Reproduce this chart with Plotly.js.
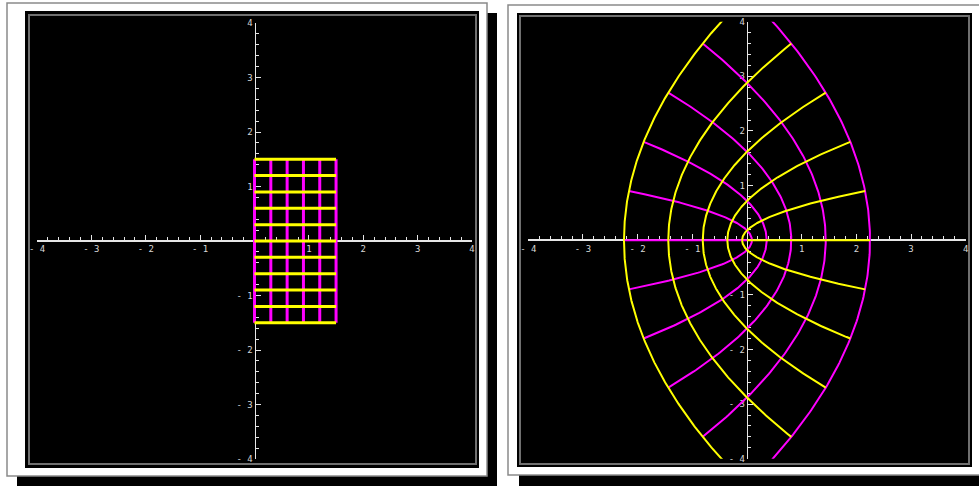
<!DOCTYPE html>
<html>
<head>
<meta charset="utf-8">
<script src="https://cdn.plot.ly/plotly-3.0.1.min.js"></script>
<style>html,body{margin:0;padding:0;background:#fff;}#chart{width:979px;height:486px;}</style>
</head>
<body>
<div id="chart"></div>
<script>
// ---- data ----
// grid lines of the rectangle in the z-plane
const gridX = [0, 0.3, 0.6, 0.9, 1.2, 1.5];                                 // vertical lines (magenta)
const gridY = [-1.5, -1.2, -0.9, -0.6, -0.3, 0, 0.3, 0.6, 0.9, 1.2, 1.5];   // horizontal lines (yellow)
const tickVals = [-4, -3, -2, -1, 1, 2, 3, 4];
const tickText = ['- 4', '- 3', '- 2', '- 1', '1', '2', '3', '4'];

const MAG = '#ff00ff', YEL = '#ffff00';
const W = 979, H = 486;
const px = v => v / W;
const py = v => 1 - v / H;

// mapping w = z^2 (the right panel is the image of the left grid)
function sq(x, y) { return [x * x - y * y, 2 * x * y]; }

const traces = [];
const yMin = gridY[0], yMax = gridY[gridY.length - 1];
const xMin = gridX[0], xMax = gridX[gridX.length - 1];

// left panel
gridX.forEach(c => traces.push({type: 'scatter', mode: 'lines', x: [c, c], y: [yMin, yMax],
  line: {color: MAG, width: 3}, xaxis: 'x', yaxis: 'y', hoverinfo: 'skip', showlegend: false}));
gridY.forEach(d => traces.push({type: 'scatter', mode: 'lines', x: [xMin, xMax], y: [d, d],
  line: {color: YEL, width: 3}, xaxis: 'x', yaxis: 'y', hoverinfo: 'skip', showlegend: false}));

// right panel (image curves)
const N = 200;
gridX.forEach(c => {
  const u = [], v = [];
  for (let i = 0; i <= N; i++) { const t = yMin + (yMax - yMin) * i / N; const w = sq(c, t); u.push(w[0]); v.push(w[1]); }
  traces.push({type: 'scatter', mode: 'lines', x: u, y: v, line: {color: MAG, width: 2},
    xaxis: 'x2', yaxis: 'y2', hoverinfo: 'skip', showlegend: false});
});
gridY.forEach(d => {
  const u = [], v = [];
  for (let i = 0; i <= N; i++) { const t = xMin + (xMax - xMin) * i / N; const w = sq(t, d); u.push(w[0]); v.push(w[1]); }
  traces.push({type: 'scatter', mode: 'lines', x: u, y: v, line: {color: YEL, width: 2},
    xaxis: 'x2', yaxis: 'y2', hoverinfo: 'skip', showlegend: false});
});

const axisCommon = {
  range: [-4, 4], tickmode: 'array', tickvals: tickVals, ticktext: tickText,
  showline: true, linecolor: '#e6e6e6', linewidth: 1.5,
  ticks: 'inside', ticklen: 5, tickwidth: 1, tickcolor: '#e6e6e6',
  minor: {tickmode: 'linear', tick0: -4, dtick: 0.2, ticks: 'inside', ticklen: 3, tickwidth: 1, tickcolor: '#e6e6e6'},
  tickfont: {family: 'DejaVu Sans Mono', size: 9, color: '#d8d8d8'},
  showgrid: false, zeroline: false, fixedrange: true, anchor: 'free', layer: 'below traces'
};

function rect(x0, y0, x1, y1, fill, lineColor, lineWidth) {
  return {type: 'rect', xref: 'paper', yref: 'paper', x0: px(x0), x1: px(x1), y0: py(y1), y1: py(y0),
    fillcolor: fill, line: {color: lineColor || 'rgba(0,0,0,0)', width: lineWidth || 0}, layer: 'below'};
}

const shapes = [
  // left panel
  rect(17, 13, 497, 486, '#000'),
  rect(7, 3, 487, 476, '#fff', '#8a8a8a', 1.5),
  rect(25, 11, 479, 468, '#000'),
  rect(29, 15, 476, 464, 'rgba(0,0,0,0)', '#707070', 2),
  // right panel
  rect(519, 13, 995, 486, '#000'),
  rect(508, 5, 990, 475, '#fff', '#8a8a8a', 1.5),
  rect(517, 13, 972, 467, '#000'),
  rect(520, 16, 969, 464, 'rgba(0,0,0,0)', '#707070', 2)
];

const layout = {
  width: W, height: H, margin: {l: 0, r: 0, t: 0, b: 0},
  paper_bgcolor: '#fff', plot_bgcolor: 'rgba(0,0,0,0)', showlegend: false,
  xaxis: Object.assign({}, axisCommon, {domain: [px(37), px(472)], position: py(240)}),
  yaxis: Object.assign({}, axisCommon, {domain: [py(459), py(23)], position: px(254.5)}),
  xaxis2: Object.assign({}, axisCommon, {domain: [px(528.3), px(965.7)], position: py(239.3)}),
  yaxis2: Object.assign({}, axisCommon, {domain: [py(458.7), py(21.7)], position: px(746.7)}),
  shapes: shapes
};

Plotly.newPlot('chart', traces, layout, {displayModeBar: false, staticPlot: true});
</script>
</body>
</html>
